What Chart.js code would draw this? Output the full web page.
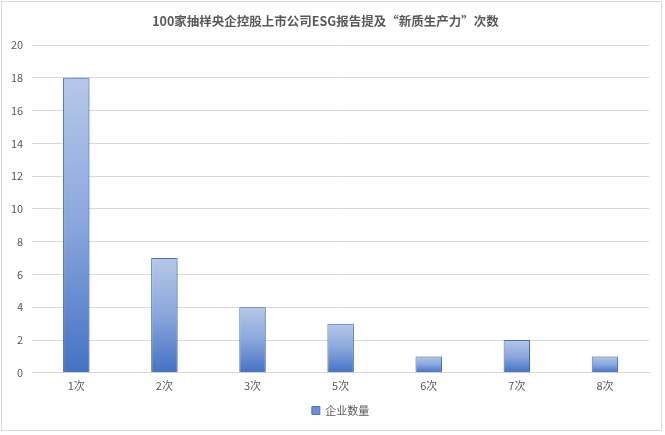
<!DOCTYPE html>
<html><head><meta charset="utf-8">
<script src="https://cdn.jsdelivr.net/npm/chart.js@4"></script>
<style>
html,body{margin:0;padding:0;background:#fff;}
#box{position:absolute;left:1px;top:1px;width:661px;height:430px;box-sizing:border-box;border:1px solid #d9d9d9;}
canvas{display:block;}
</style></head>
<body>
<div id="box"><canvas id="c" width="659" height="428"></canvas></div>
<script>
const categories = ['1次','2次','3次','5次','6次','7次','8次'];
const companyCounts = [18,7,4,3,1,2,1];
const yTicks = [0,2,4,6,8,10,12,14,16,18,20];
const titleText = '100家抽样央企控股上市公司ESG报告提及“新质生产力”次数';
const seriesName = '企业数量';

const FONT = '"Noto Sans CJK SC","Microsoft YaHei",sans-serif';

function barGradient(ctx){
  const chart = ctx.chart;
  if (!chart.chartArea || ctx.type !== 'data') return '#6f8fd0';
  const ys = chart.scales.y;
  const top = ys.getPixelForValue(ctx.raw);
  const base = ys.getPixelForValue(0);
  const g = chart.ctx.createLinearGradient(0, top, 0, base);
  g.addColorStop(0, '#b6c8e9');
  g.addColorStop(0.5, '#8aa6dc');
  g.addColorStop(1, '#4472c4');
  return g;
}

const shadowPlugin = {
  id: 'barShadow',
  beforeDatasetsDraw(chart){
    const c = chart.ctx; c.save();
    c.shadowColor = 'rgba(0,0,0,0.22)'; c.shadowBlur = 4; c.shadowOffsetX = 2; c.shadowOffsetY = 1;
  },
  afterDatasetsDraw(chart){ chart.ctx.restore(); }
};

new Chart(document.getElementById('c'), {
  type: 'bar',
  data: {
    labels: categories,
    datasets: [{
      label: seriesName,
      data: companyCounts,
      backgroundColor: barGradient,
      borderColor: '#4472c4',
      borderWidth: 1,
      categoryPercentage: 1,
      barPercentage: 0.3
    }]
  },
  plugins: [shadowPlugin],
  options: {
    responsive: false,
    animation: false,
    layout: {padding: {left: 0, right: 12, top: 4, bottom: 4}},
    plugins: {
      title: {display: true, text: titleText, color: '#595959',
        font: {family: FONT, size: 12.5, weight: 'bold'}, padding: {top: 8, bottom: 16}},
      legend: {position: 'bottom', fullSize: false, labels: {color: '#595959', boxWidth: 8, boxHeight: 8,
        font: {family: FONT, size: 11}, padding: 7,
        generateLabels: (chart) => [{text: seriesName, fillStyle: '#6f8fd0', strokeStyle: '#4472c4', lineWidth: 1, fontColor: '#595959', datasetIndex: 0}]}},
      tooltip: {enabled: false}
    },
    scales: {
      x: {
        grid: {display: false, drawTicks: false},
        border: {color: '#d9d9d9'},
        ticks: {color: '#595959', font: {family: FONT, size: 11}, padding: 6}
      },
      y: {
        min: 0, max: 20,
        afterBuildTicks: (s) => { s.ticks = yTicks.map(v => ({value: v})); },
        grid: {color: '#d9d9d9', drawTicks: false},
        border: {display: false},
        ticks: {color: '#595959', font: {family: FONT, size: 11}, padding: 9}
      }
    }
  }
});
</script>
</body></html>
